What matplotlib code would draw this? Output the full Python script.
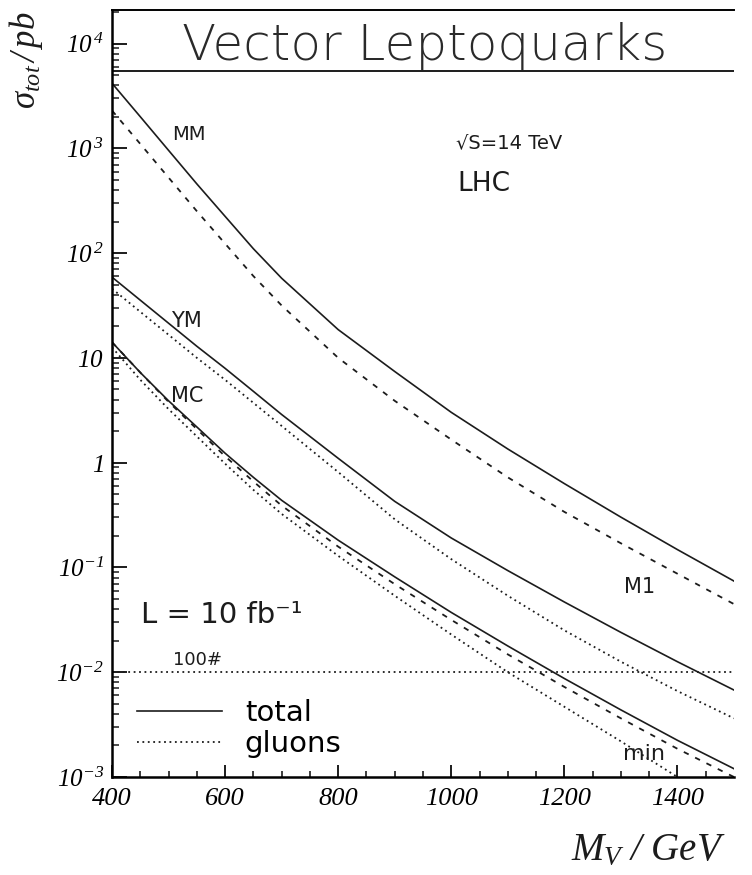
import matplotlib

matplotlib.use("Agg")
import matplotlib.pyplot as plt  # noqa: E402
from matplotlib.ticker import FixedLocator, LogLocator, NullFormatter  # noqa: E402

plt.rcParams["mathtext.fontset"] = "custom"
plt.rcParams["mathtext.rm"] = "Liberation Serif:italic"
plt.rcParams["mathtext.it"] = "Liberation Serif:italic"
plt.rcParams["font.family"] = ["DejaVu Sans"]

# leptoquark mass / GeV
mass = [400, 450, 500, 550, 600, 650, 700, 800, 900, 1000, 1100, 1200, 1300, 1400, 1500]
mass_mc_glu = mass[:-1]

# total cross sections / pb
mm_total = [4170, 2000, 955, 457, 224, 110, 57.5, 18.6, 7.41, 3.02, 1.35, 0.631, 0.302, 0.148, 0.0741]
m1_total = [2290, 1100, 525, 251, 123, 60.3, 31.6, 10.0, 3.89, 1.66, 0.724, 0.339, 0.170, 0.0871, 0.0447]
ym_total = [58.9, 35.5, 21.4, 12.9, 7.94, 4.79, 2.88, 1.10, 0.427, 0.191, 0.0933, 0.0468, 0.0240, 0.0126, 0.00676]
ym_gluons = [45.7, 27.5, 16.6, 10.0, 6.17, 3.72, 2.24, 0.813, 0.288, 0.120, 0.0537, 0.0251, 0.0126, 0.00661, 0.00363]
mc_total = [14.1, 7.24, 3.89, 2.19, 1.23, 0.724, 0.437, 0.182, 0.0813, 0.0372, 0.0178, 0.00871, 0.00437, 0.00224, 0.00120]
min_total = [14.1, 7.24, 3.80, 2.09, 1.15, 0.661, 0.389, 0.158, 0.0692, 0.0316, 0.0148, 0.00724, 0.00363, 0.00186, 0.00100]
mc_gluons = [12.6, 6.17, 3.24, 1.78, 0.977, 0.550, 0.324, 0.129, 0.0537, 0.0229, 0.0100, 0.00468, 0.00219, 0.00100]

events_100 = 1e-2  # 100 events at L = 10 fb^-1
box_bottom = 5500.0

y_major = [1e-3, 1e-2, 1e-1, 1, 10, 1e2, 1e3, 1e4]
y_tick_labels = [r"$10^{-3}$", r"$10^{-2}$", r"$10^{-1}$", r"$1$", r"$10$", r"$10^{\,2}$", r"$10^{\,3}$", r"$10^{\,4}$"]
x_major = [400, 600, 800, 1000, 1200, 1400]
x_tick_labels = ["400", "600", "800", "1000", "1200", "1400"]

ink = "#1c1c1c"
dot = (0, (1, 2))
dash = (0, (3, 4))

fig = plt.figure(figsize=(7.52, 8.75), dpi=100)
ax = fig.add_axes([0.149, 0.112, 0.827, 0.8766])
ax.set_yscale("log")

h_total, = ax.plot(mass, mm_total, color=ink, lw=1.2)
ax.plot(mass, m1_total, color=ink, lw=1.3, linestyle=dash)
ax.plot(mass, ym_total, color=ink, lw=1.2)
h_glu, = ax.plot(mass, ym_gluons, color=ink, lw=1.3, linestyle=dot)
ax.plot(mass, mc_total, color=ink, lw=1.2)
ax.plot(mass, min_total, color=ink, lw=1.3, linestyle=dash)
ax.plot(mass_mc_glu, mc_gluons, color=ink, lw=1.3, linestyle=dot)
ax.axhline(events_100, color=ink, lw=1.3, linestyle=dot)
ax.axhline(box_bottom, color=ink, lw=1.4)

ax.set_xlim(400, 1500)
ax.set_ylim(1e-3, 10 ** 4.32)

for side in ("left", "bottom"):
    ax.spines[side].set_linewidth(1.8)
ax.spines["top"].set_linewidth(1.4)
ax.spines["right"].set_visible(False)

ax.set_yticks(y_major, labels=y_tick_labels, fontsize=18)
ax.yaxis.set_minor_locator(LogLocator(base=10, subs=range(2, 10), numticks=20))
ax.yaxis.set_minor_formatter(NullFormatter())
ax.set_xticks(x_major, labels=x_tick_labels, fontsize=19, fontfamily="Liberation Serif", fontstyle="italic")
ax.xaxis.set_minor_locator(FixedLocator(range(450, 1500, 50)))
ax.tick_params(axis="both", which="both", direction="in", top=False, right=False, color=ink)
ax.tick_params(axis="y", which="major", length=11, width=1.4, pad=6)
ax.tick_params(axis="y", which="minor", length=5, width=1.1)
ax.tick_params(axis="x", which="major", length=9, width=1.4, pad=8)
ax.tick_params(axis="x", which="minor", length=4.5, width=1.2)

ax.text(952, 6900, "Vector Leptoquarks", fontsize=36, fontweight="light", ha="center", va="baseline", color="#2a2a2a")
ax.text(507, 1213, "MM", fontsize=14, va="baseline", color=ink)
ax.text(505, 19.5, "YM", fontsize=15, va="baseline", color=ink)
ax.text(505, 3.78, "MC", fontsize=15, va="baseline", color=ink)
ax.text(1306, 0.057, "M1", fontsize=15, va="baseline", color=ink)
ax.text(1304, 1.45e-3, "min", fontsize=16, va="baseline", color=ink)
ax.text(507, 0.0117, "100#", fontsize=13, va="baseline", color=ink)
ax.text(1009, 1012, "\u221aS=14 TeV", fontsize=14, va="baseline", color=ink)
ax.text(1011, 389, "LHC", fontsize=19, va="baseline", color=ink)
ax.text(451, 0.0295, "L = 10 fb\u207b\u00b9", fontsize=21, va="baseline", color=ink)

ax.legend([h_total, h_glu], ["total", "gluons"], loc="lower left", bbox_to_anchor=(0.04, 0.025),
          frameon=False, fontsize=21, handlelength=2.9, handletextpad=0.8, labelspacing=0.1,
          borderpad=0, borderaxespad=0)

fig.text(0.035, 0.931, r"$\sigma_{tot}\,/\,pb$", fontsize=25, rotation=90, ha="center", va="center", color=ink)
fig.text(0.862, 0.017, r"$M_V\ /\ GeV$", fontsize=28, ha="center", va="baseline", color=ink)

fig.savefig("out.png", dpi=100, facecolor="white")
